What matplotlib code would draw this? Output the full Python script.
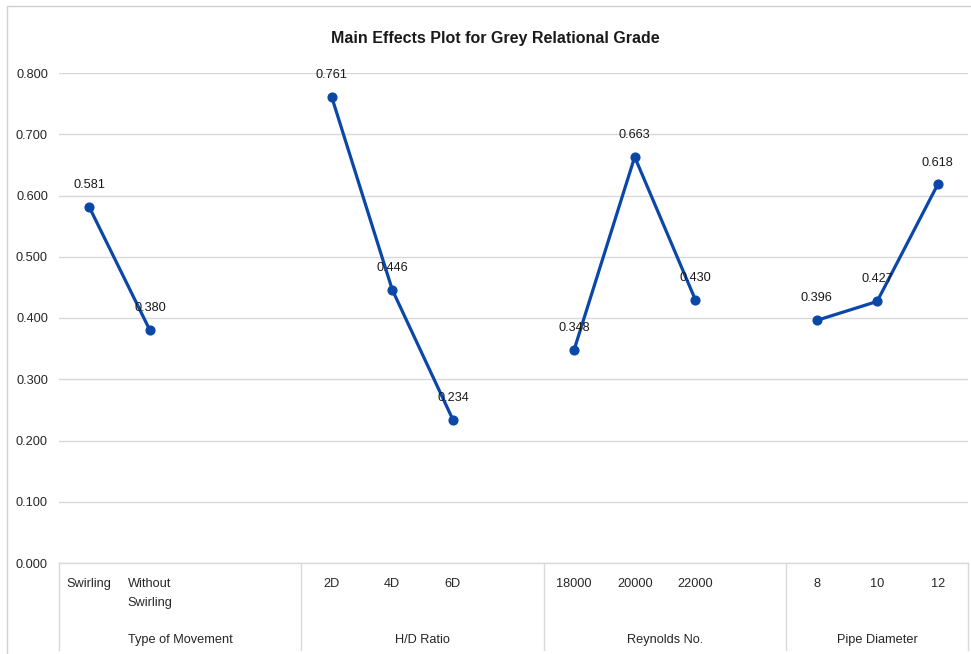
import matplotlib
matplotlib.use("Agg")
import matplotlib.pyplot as plt
from matplotlib.lines import Line2D
from matplotlib.patches import Rectangle

plt.rcParams['font.family'] = ['Liberation Sans', 'DejaVu Sans']

title = "Main Effects Plot for Grey Relational Grade"
groups = ["Type of Movement", "H/D Ratio", "Reynolds No.", "Pipe Diameter"]
levels = [["Swirling", "Without\nSwirling"],
          ["2D", "4D", "6D"],
          ["18000", "20000", "22000"],
          ["8", "10", "12"]]
values = [[0.581, 0.380],
          [0.761, 0.446, 0.234],
          [0.348, 0.663, 0.430],
          [0.396, 0.427, 0.618]]
labels = [["0.581", "0.380"],
          ["0.761", "0.446", "0.234"],
          ["0.348", "0.663", "0.430"],
          ["0.396", "0.427", "0.618"]]
yticks = [0.0, 0.1, 0.2, 0.3, 0.4, 0.5, 0.6, 0.7, 0.8]

# slots per group (Excel blank rows pad groups to 4 slots, last has 3)
slots = [4, 4, 4, 3]

W, H = 971, 654
fig = plt.figure(figsize=(W / 100, H / 100), dpi=100)
ax = fig.add_axes([59 / W, 1 - 563 / H, (968 - 59) / W, (563 - 73) / H])

color = "#0a47a8"
grid_c = "#d9d9d9"
fs = 9.2

start = 0
bounds = [-0.5]
for gi, (lv, vals, labs) in enumerate(zip(levels, values, labels)):
    xs = list(range(start, start + len(vals)))
    ax.plot(xs, vals, color=color, lw=2.3, marker='o', ms=6.3,
            solid_capstyle='round', zorder=3)
    for x, v, lab in zip(xs, vals, labs):
        ax.annotate(lab, (x, v), xytext=(0, 11.5), textcoords='offset points',
                    ha='center', va='bottom', fontsize=fs, color='#1a1a1a',
                    zorder=4)
    for x, name in zip(xs, lv):
        ax.text(x, -0.031, name, transform=ax.get_xaxis_transform(),
                ha='center', va='top', fontsize=fs, color='#262626',
                linespacing=1.75, multialignment='left')
    gstart = start - 0.5
    gend = start + slots[gi] - 0.5
    ax.text((gstart + gend) / 2, -0.145, groups[gi],
            transform=ax.get_xaxis_transform(), ha='center', va='top',
            fontsize=fs, color='#262626')
    start += slots[gi]
    bounds.append(gend)

ax.set_xlim(-0.5, start - 0.5)
ax.set_ylim(0, 0.8)
ax.set_yticks(yticks)
ax.set_yticklabels([f"{t:.3f}" for t in yticks], fontsize=fs, color='#262626')
ax.tick_params(axis='y', length=0, pad=8)
ax.set_xticks([])
ax.grid(axis='y', color=grid_c, lw=1)
ax.set_axisbelow(True)
for s in ['top', 'right', 'left']:
    ax.spines[s].set_visible(False)
ax.spines['bottom'].set_color(grid_c)
ax.spines['bottom'].set_linewidth(1)

xt = ax.get_xaxis_transform()
for b in bounds:
    ax.add_line(Line2D([b, b], [0, -0.178], transform=xt, color=grid_c,
                       lw=1, clip_on=False))

# chart frame
fig.add_artist(Rectangle((7 / W, -0.01), 1.0, 1 - 6 / H + 0.01,
                         transform=fig.transFigure, fill=False,
                         edgecolor='#d0d0d0', lw=1))

fig.text(495 / W, 1 - 38 / H, title, ha='center', va='center',
         fontsize=11.5, fontweight='bold', color='#1a1a1a')

fig.savefig("out.png", dpi=100)
